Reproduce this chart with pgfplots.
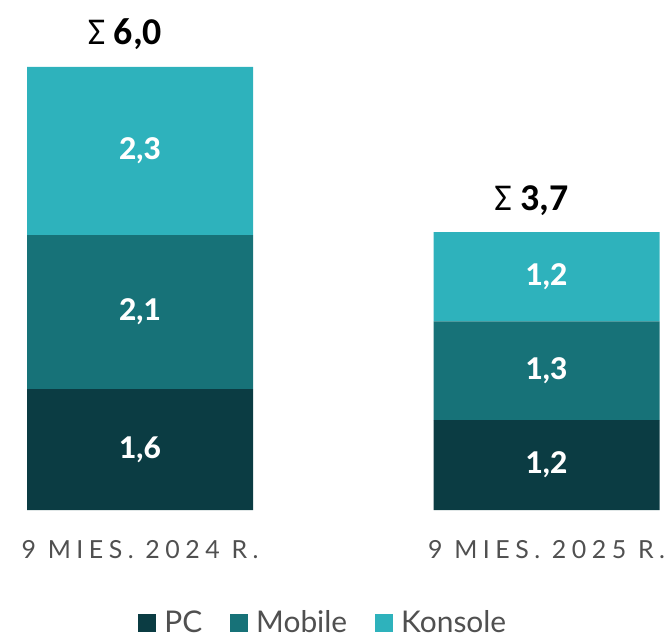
\documentclass[border=0pt]{standalone}
\usepackage{fontspec}
\setmainfont{Lato}
\newfontfamily\sumfont{Carlito}
\newfontfamily\heavyfont{Lato Heavy}
\newfontfamily\catfont[LetterSpace=22]{Lato}
\usepackage{pgfplots}
\pgfplotsset{compat=1.18}
\definecolor{pc}{HTML}{0B3C43}
\definecolor{mob}{HTML}{177278}
\definecolor{kon}{HTML}{2EB2BC}
\definecolor{txt}{HTML}{505050}
\begin{document}
\begin{tikzpicture}
\useasboundingbox (-27bp,-127bp) rectangle (639bp,510bp);
\begin{axis}[
  at={(0,0)}, anchor=south west,
  scale only axis,
  width=632.5bp, height=443bp,
  xmin=-0.278, xmax=1.278,
  ymin=0, ymax=6.01,
  ybar stacked,
  bar width=226bp,
  axis line style={draw=none},
  major tick length=0pt,
  ytick=\empty,
  xtick={0,1},
  xticklabels={9 MIES. 2024 R., 9 MIES. 2025 R.},
  xticklabel style={font=\catfont\fontsize{25}{25}\selectfont, text=txt, anchor=base, yshift=-48bp},
  legend style={at={(axis description cs:0.47,-0.253)}, anchor=center, draw=none,
    legend columns=-1, font=\fontsize{30}{34}\selectfont, text=txt,
    nodes={inner xsep=4bp},
    /tikz/every even column/.append style={column sep=24bp}},
  legend image code/.code={\fill[#1] (0bp,-10bp) rectangle (18bp,8bp); \path (22bp,0bp);},
  point meta=explicit symbolic,
  every node near coord/.append style={font=\heavyfont\fontsize{30}{30}\selectfont, text=white, anchor=center},
]
\addplot[fill=pc, draw=none, nodes near coords] coordinates {(0,1.64) [1,6] (1,1.22) [1,2]};
\addplot[fill=mob, draw=none, nodes near coords] coordinates {(0,2.09) [2,1] (1,1.34) [1,3]};
\addplot[fill=kon, draw=none, nodes near coords] coordinates {(0,2.28) [2,3] (1,1.21) [1,2]};
\legend{PC, Mobile, Konsole}
\end{axis}
\begin{axis}[
  at={(0,0)}, anchor=south west,
  scale only axis,
  width=632.5bp, height=443bp,
  xmin=-0.278, xmax=1.278,
  ymin=0, ymax=6.01,
  hide axis,
  point meta=explicit symbolic,
  nodes near coords,
  every node near coord/.style={font=\sumfont\fontsize{38}{38}\selectfont, text=black, anchor=base, yshift=22bp, xshift=-15bp},
]
\addplot[only marks, mark=none] coordinates {(0,6.01) [Σ \textbf{6,0}] (1,3.77) [Σ \textbf{3,7}]};
\end{axis}
\end{tikzpicture}
\end{document}
